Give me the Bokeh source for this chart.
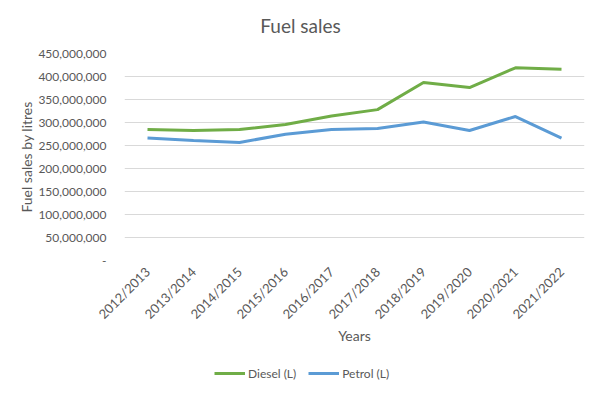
from bokeh.plotting import figure
from bokeh.layouts import column
from bokeh.models import (Range1d, FactorRange, SingleIntervalTicker, NumeralTickFormatter,
                          Label, Legend, LegendItem)
from bokeh.embed import file_html
from bokeh.resources import INLINE

years = ["2012/2013", "2013/2014", "2014/2015", "2015/2016", "2016/2017",
         "2017/2018", "2018/2019", "2019/2020", "2020/2021", "2021/2022"]
diesel = [284.8e6, 282.6e6, 284.8e6, 295.5e6, 314e6, 328e6, 387e6, 376e6, 419e6, 416e6]
petrol = [266.5e6, 261e6, 256.5e6, 274.6e6, 285e6, 287e6, 301e6, 282.6e6, 313e6, 266e6]
series_names = ["Diesel (L)", "Petrol (L)"]
series_colors = ["#70ad47", "#5b9bd5"]

FONT = "Lato"
TXT = "#595959"
LEFT, RIGHT = 124, 16


def strip(h):
    # same horizontal frame as the main chart, x in page pixels
    f = figure(width=600, height=h, x_range=Range1d(LEFT, 600 - RIGHT), y_range=Range1d(0, h),
               output_backend="svg", toolbar_location=None,
               x_axis_location=None, y_axis_location=None,
               min_border_left=LEFT, min_border_right=RIGHT,
               min_border_top=0, min_border_bottom=0)
    f.outline_line_color = None
    f.xgrid.visible = False
    f.ygrid.visible = False
    return f


# title strip
p_top = strip(40)
p_top.add_layout(Label(x=300, y=15, text="Fuel sales", text_align="center",
                       text_baseline="middle", text_font=FONT, text_font_size="19px",
                       text_color=TXT))

# main chart
p = figure(width=600, height=310, x_range=FactorRange(*years), y_range=Range1d(0, 450e6),
           output_backend="svg", toolbar_location=None,
           min_border_left=LEFT, min_border_right=RIGHT, min_border_top=13, min_border_bottom=90)
p.outline_line_color = None
p.xgrid.grid_line_color = None
p.ygrid.grid_line_color = "#d9d9d9"
p.ygrid.grid_line_width = 1

p.yaxis.ticker = SingleIntervalTicker(interval=50e6)
p.yaxis.formatter = NumeralTickFormatter(format="0,0")
p.yaxis.major_label_overrides = {0: "-"}
for ax in (p.xaxis[0], p.yaxis[0]):
    ax.axis_line_color = None
    ax.major_tick_line_color = None
    ax.minor_tick_line_color = None
    ax.major_tick_out = 0
    ax.major_tick_in = 0
    ax.major_label_text_font = FONT
    ax.major_label_text_color = TXT
    ax.major_label_text_font_size = "13px"
    ax.axis_label_text_font = FONT
    ax.axis_label_text_color = TXT
    ax.axis_label_text_font_size = "14px"
    ax.axis_label_text_font_style = "normal"

p.yaxis.major_label_text_font_size = "12px"
p.yaxis.major_label_standoff = 14
p.yaxis.axis_label = "Fuel sales by litres"
p.yaxis.axis_label_standoff = 0
p.xaxis.major_label_orientation = 0.785398
p.xaxis.major_label_standoff = 9
p.xaxis.axis_label = "Years"
p.xaxis.axis_label_standoff = -4

p.line(years, diesel, line_color=series_colors[0], line_width=3)
p.line(years, petrol, line_color=series_colors[1], line_width=3)

# legend strip: swatch renderers sit outside the visible range, only the legend shows them
p_leg = strip(45)
items = []
for name, col in zip(series_names, series_colors):
    r = p_leg.line(x=[-100, -90], y=[-100, -100], line_color=col, line_width=3)
    items.append(LegendItem(label=name, renderers=[r]))
legend = Legend(items=items, orientation="horizontal", location=(214 - LEFT, 12),
                padding=0, margin=0, spacing=12, glyph_width=31, glyph_height=20,
                label_height=20, label_standoff=3,
                label_text_font=FONT, label_text_color=TXT, label_text_font_size="12px",
                border_line_color=None, background_fill_alpha=0)
p_leg.add_layout(legend, "center")

layout = column(p_top, p, p_leg, spacing=0)
open("out.html", "w").write(file_html(layout, INLINE))
